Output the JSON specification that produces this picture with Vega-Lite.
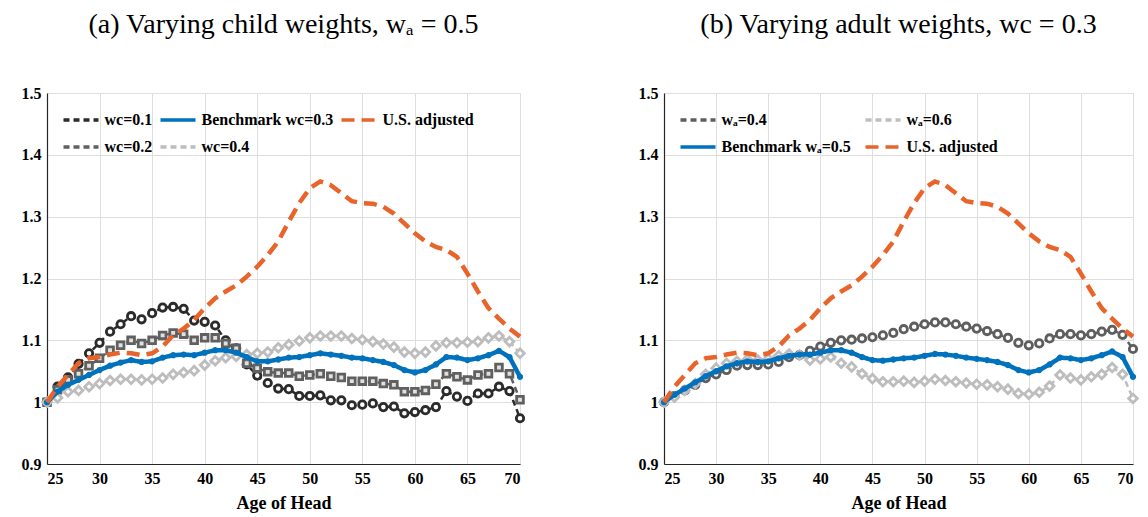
{
  "$schema": "https://vega.github.io/schema/vega-lite/v6.json",
  "padding": {"left": 20, "top": 10, "right": 3, "bottom": 2},
  "background": "white",
  "config": {
    "font": "Liberation Serif, Times New Roman, serif",
    "view": {"stroke": "#d9d9d9", "strokeWidth": 1},
    "axis": {
      "labelFont": "Liberation Serif, Times New Roman, serif", "labelFontSize": 16, "labelFontWeight": 700, "labelColor": "#000000",
      "titleFont": "Liberation Serif, Times New Roman, serif", "titleFontSize": 18, "titleFontWeight": 700, "titleColor": "#000000",
      "gridColor": "#dedede", "gridWidth": 1, "domainColor": "#262626", "domainWidth": 1.2,
      "ticks": false, "labelPadding": 6, "titlePadding": 8
    },
    "title": {"font": "Liberation Serif, Times New Roman, serif", "fontSize": 28, "fontWeight": "normal", "color": "#000000", "anchor": "middle", "offset": 46},
    "legend": {
      "orient": "none", "legendX": 22, "legendY": 15, "labelFont": "Liberation Serif, Times New Roman, serif", "labelFontSize": 16, "labelFontWeight": 700,
      "labelColor": "#000000", "symbolType": "M-1.75,0H1.75", "symbolSize": 400, "symbolStrokeWidth": 3.5, "columnPadding": 0, "rowPadding": 7, "labelOffset": 11.5,
      "title": null
    }
  },
  "spacing": 106,
  "datasets": {
    "a": [
      {"age":25,"series":"wc=0.1","value":1.000},{"age":26,"series":"wc=0.1","value":1.025},{"age":27,"series":"wc=0.1","value":1.040},{"age":28,"series":"wc=0.1","value":1.062},{"age":29,"series":"wc=0.1","value":1.079},{"age":30,"series":"wc=0.1","value":1.096},{"age":31,"series":"wc=0.1","value":1.114},{"age":32,"series":"wc=0.1","value":1.126},{"age":33,"series":"wc=0.1","value":1.139},{"age":34,"series":"wc=0.1","value":1.134},
      {"age":35,"series":"wc=0.1","value":1.144},{"age":36,"series":"wc=0.1","value":1.153},{"age":37,"series":"wc=0.1","value":1.154},{"age":38,"series":"wc=0.1","value":1.151},{"age":39,"series":"wc=0.1","value":1.132},{"age":40,"series":"wc=0.1","value":1.130},{"age":41,"series":"wc=0.1","value":1.124},{"age":42,"series":"wc=0.1","value":1.100},{"age":43,"series":"wc=0.1","value":1.087},{"age":44,"series":"wc=0.1","value":1.061},
      {"age":45,"series":"wc=0.1","value":1.043},{"age":46,"series":"wc=0.1","value":1.031},{"age":47,"series":"wc=0.1","value":1.022},{"age":48,"series":"wc=0.1","value":1.021},{"age":49,"series":"wc=0.1","value":1.010},{"age":50,"series":"wc=0.1","value":1.010},{"age":51,"series":"wc=0.1","value":1.011},{"age":52,"series":"wc=0.1","value":1.003},{"age":53,"series":"wc=0.1","value":1.003},{"age":54,"series":"wc=0.1","value":0.995},
      {"age":55,"series":"wc=0.1","value":0.996},{"age":56,"series":"wc=0.1","value":0.998},{"age":57,"series":"wc=0.1","value":0.992},{"age":58,"series":"wc=0.1","value":0.993},{"age":59,"series":"wc=0.1","value":0.982},{"age":60,"series":"wc=0.1","value":0.984},{"age":61,"series":"wc=0.1","value":0.987},{"age":62,"series":"wc=0.1","value":0.992},{"age":63,"series":"wc=0.1","value":1.018},{"age":64,"series":"wc=0.1","value":1.009},
      {"age":65,"series":"wc=0.1","value":1.002},{"age":66,"series":"wc=0.1","value":1.014},{"age":67,"series":"wc=0.1","value":1.014},{"age":68,"series":"wc=0.1","value":1.025},{"age":69,"series":"wc=0.1","value":1.018},{"age":70,"series":"wc=0.1","value":0.974},

      {"age":25,"series":"wc=0.2","value":1.000},{"age":26,"series":"wc=0.2","value":1.020},{"age":27,"series":"wc=0.2","value":1.036},{"age":28,"series":"wc=0.2","value":1.046},{"age":29,"series":"wc=0.2","value":1.059},{"age":30,"series":"wc=0.2","value":1.071},{"age":31,"series":"wc=0.2","value":1.084},{"age":32,"series":"wc=0.2","value":1.092},{"age":33,"series":"wc=0.2","value":1.100},{"age":34,"series":"wc=0.2","value":1.095},
      {"age":35,"series":"wc=0.2","value":1.100},{"age":36,"series":"wc=0.2","value":1.108},{"age":37,"series":"wc=0.2","value":1.112},{"age":38,"series":"wc=0.2","value":1.110},{"age":39,"series":"wc=0.2","value":1.100},{"age":40,"series":"wc=0.2","value":1.104},{"age":41,"series":"wc=0.2","value":1.104},{"age":42,"series":"wc=0.2","value":1.095},{"age":43,"series":"wc=0.2","value":1.087},{"age":44,"series":"wc=0.2","value":1.063},
      {"age":45,"series":"wc=0.2","value":1.055},{"age":46,"series":"wc=0.2","value":1.049},{"age":47,"series":"wc=0.2","value":1.047},{"age":48,"series":"wc=0.2","value":1.047},{"age":49,"series":"wc=0.2","value":1.042},{"age":50,"series":"wc=0.2","value":1.044},{"age":51,"series":"wc=0.2","value":1.046},{"age":52,"series":"wc=0.2","value":1.042},{"age":53,"series":"wc=0.2","value":1.040},{"age":54,"series":"wc=0.2","value":1.034},
      {"age":55,"series":"wc=0.2","value":1.034},{"age":56,"series":"wc=0.2","value":1.034},{"age":57,"series":"wc=0.2","value":1.030},{"age":58,"series":"wc=0.2","value":1.028},{"age":59,"series":"wc=0.2","value":1.017},{"age":60,"series":"wc=0.2","value":1.017},{"age":61,"series":"wc=0.2","value":1.019},{"age":62,"series":"wc=0.2","value":1.029},{"age":63,"series":"wc=0.2","value":1.046},{"age":64,"series":"wc=0.2","value":1.041},
      {"age":65,"series":"wc=0.2","value":1.036},{"age":66,"series":"wc=0.2","value":1.044},{"age":67,"series":"wc=0.2","value":1.046},{"age":68,"series":"wc=0.2","value":1.056},{"age":69,"series":"wc=0.2","value":1.046},{"age":70,"series":"wc=0.2","value":1.004},

      {"age":25,"series":"wc=0.4","value":1.000},{"age":26,"series":"wc=0.4","value":1.007},{"age":27,"series":"wc=0.4","value":1.017},{"age":28,"series":"wc=0.4","value":1.019},{"age":29,"series":"wc=0.4","value":1.025},{"age":30,"series":"wc=0.4","value":1.030},{"age":31,"series":"wc=0.4","value":1.035},{"age":32,"series":"wc=0.4","value":1.037},{"age":33,"series":"wc=0.4","value":1.037},{"age":34,"series":"wc=0.4","value":1.036},
      {"age":35,"series":"wc=0.4","value":1.037},{"age":36,"series":"wc=0.4","value":1.039},{"age":37,"series":"wc=0.4","value":1.045},{"age":38,"series":"wc=0.4","value":1.048},{"age":39,"series":"wc=0.4","value":1.051},{"age":40,"series":"wc=0.4","value":1.060},{"age":41,"series":"wc=0.4","value":1.067},{"age":42,"series":"wc=0.4","value":1.072},{"age":43,"series":"wc=0.4","value":1.074},{"age":44,"series":"wc=0.4","value":1.077},
      {"age":45,"series":"wc=0.4","value":1.079},{"age":46,"series":"wc=0.4","value":1.081},{"age":47,"series":"wc=0.4","value":1.088},{"age":48,"series":"wc=0.4","value":1.093},{"age":49,"series":"wc=0.4","value":1.099},{"age":50,"series":"wc=0.4","value":1.104},{"age":51,"series":"wc=0.4","value":1.107},{"age":52,"series":"wc=0.4","value":1.107},{"age":53,"series":"wc=0.4","value":1.107},{"age":54,"series":"wc=0.4","value":1.103},
      {"age":55,"series":"wc=0.4","value":1.101},{"age":56,"series":"wc=0.4","value":1.098},{"age":57,"series":"wc=0.4","value":1.094},{"age":58,"series":"wc=0.4","value":1.089},{"age":59,"series":"wc=0.4","value":1.081},{"age":60,"series":"wc=0.4","value":1.079},{"age":61,"series":"wc=0.4","value":1.081},{"age":62,"series":"wc=0.4","value":1.091},{"age":63,"series":"wc=0.4","value":1.096},{"age":64,"series":"wc=0.4","value":1.096},
      {"age":65,"series":"wc=0.4","value":1.097},{"age":66,"series":"wc=0.4","value":1.098},{"age":67,"series":"wc=0.4","value":1.104},{"age":68,"series":"wc=0.4","value":1.107},{"age":69,"series":"wc=0.4","value":1.098},{"age":70,"series":"wc=0.4","value":1.079},

      {"age":25,"series":"Benchmark wc=0.3","value":1.000},{"age":26,"series":"Benchmark wc=0.3","value":1.017},{"age":27,"series":"Benchmark wc=0.3","value":1.028},{"age":28,"series":"Benchmark wc=0.3","value":1.036},{"age":29,"series":"Benchmark wc=0.3","value":1.044},{"age":30,"series":"Benchmark wc=0.3","value":1.052},{"age":31,"series":"Benchmark wc=0.3","value":1.059},{"age":32,"series":"Benchmark wc=0.3","value":1.064},{"age":33,"series":"Benchmark wc=0.3","value":1.068},{"age":34,"series":"Benchmark wc=0.3","value":1.065},
      {"age":35,"series":"Benchmark wc=0.3","value":1.066},{"age":36,"series":"Benchmark wc=0.3","value":1.072},{"age":37,"series":"Benchmark wc=0.3","value":1.076},{"age":38,"series":"Benchmark wc=0.3","value":1.077},{"age":39,"series":"Benchmark wc=0.3","value":1.076},{"age":40,"series":"Benchmark wc=0.3","value":1.080},{"age":41,"series":"Benchmark wc=0.3","value":1.084},{"age":42,"series":"Benchmark wc=0.3","value":1.084},{"age":43,"series":"Benchmark wc=0.3","value":1.080},{"age":44,"series":"Benchmark wc=0.3","value":1.073},
      {"age":45,"series":"Benchmark wc=0.3","value":1.066},{"age":46,"series":"Benchmark wc=0.3","value":1.066},{"age":47,"series":"Benchmark wc=0.3","value":1.069},{"age":48,"series":"Benchmark wc=0.3","value":1.072},{"age":49,"series":"Benchmark wc=0.3","value":1.073},{"age":50,"series":"Benchmark wc=0.3","value":1.076},{"age":51,"series":"Benchmark wc=0.3","value":1.079},{"age":52,"series":"Benchmark wc=0.3","value":1.077},{"age":53,"series":"Benchmark wc=0.3","value":1.075},{"age":54,"series":"Benchmark wc=0.3","value":1.072},
      {"age":55,"series":"Benchmark wc=0.3","value":1.071},{"age":56,"series":"Benchmark wc=0.3","value":1.068},{"age":57,"series":"Benchmark wc=0.3","value":1.065},{"age":58,"series":"Benchmark wc=0.3","value":1.060},{"age":59,"series":"Benchmark wc=0.3","value":1.052},{"age":60,"series":"Benchmark wc=0.3","value":1.048},{"age":61,"series":"Benchmark wc=0.3","value":1.052},{"age":62,"series":"Benchmark wc=0.3","value":1.061},{"age":63,"series":"Benchmark wc=0.3","value":1.073},{"age":64,"series":"Benchmark wc=0.3","value":1.072},
      {"age":65,"series":"Benchmark wc=0.3","value":1.068},{"age":66,"series":"Benchmark wc=0.3","value":1.071},{"age":67,"series":"Benchmark wc=0.3","value":1.076},{"age":68,"series":"Benchmark wc=0.3","value":1.083},{"age":69,"series":"Benchmark wc=0.3","value":1.073},{"age":70,"series":"Benchmark wc=0.3","value":1.041},

      {"age":25,"series":"U.S. adjusted","value":1.000},{"age":26,"series":"U.S. adjusted","value":1.025},{"age":27,"series":"U.S. adjusted","value":1.044},{"age":28,"series":"U.S. adjusted","value":1.063},{"age":29,"series":"U.S. adjusted","value":1.071},{"age":30,"series":"U.S. adjusted","value":1.073},{"age":31,"series":"U.S. adjusted","value":1.077},{"age":32,"series":"U.S. adjusted","value":1.080},{"age":33,"series":"U.S. adjusted","value":1.079},{"age":34,"series":"U.S. adjusted","value":1.076},
      {"age":35,"series":"U.S. adjusted","value":1.079},{"age":36,"series":"U.S. adjusted","value":1.090},{"age":37,"series":"U.S. adjusted","value":1.108},{"age":38,"series":"U.S. adjusted","value":1.119},{"age":39,"series":"U.S. adjusted","value":1.133},{"age":40,"series":"U.S. adjusted","value":1.152},{"age":41,"series":"U.S. adjusted","value":1.168},{"age":42,"series":"U.S. adjusted","value":1.179},{"age":43,"series":"U.S. adjusted","value":1.189},{"age":44,"series":"U.S. adjusted","value":1.203},
      {"age":45,"series":"U.S. adjusted","value":1.219},{"age":46,"series":"U.S. adjusted","value":1.238},{"age":47,"series":"U.S. adjusted","value":1.260},{"age":48,"series":"U.S. adjusted","value":1.292},{"age":49,"series":"U.S. adjusted","value":1.322},{"age":50,"series":"U.S. adjusted","value":1.346},{"age":51,"series":"U.S. adjusted","value":1.357},{"age":52,"series":"U.S. adjusted","value":1.351},{"age":53,"series":"U.S. adjusted","value":1.338},{"age":54,"series":"U.S. adjusted","value":1.325},
      {"age":55,"series":"U.S. adjusted","value":1.322},{"age":56,"series":"U.S. adjusted","value":1.321},{"age":57,"series":"U.S. adjusted","value":1.316},{"age":58,"series":"U.S. adjusted","value":1.305},{"age":59,"series":"U.S. adjusted","value":1.289},{"age":60,"series":"U.S. adjusted","value":1.273},{"age":61,"series":"U.S. adjusted","value":1.260},{"age":62,"series":"U.S. adjusted","value":1.251},{"age":63,"series":"U.S. adjusted","value":1.246},{"age":64,"series":"U.S. adjusted","value":1.235},
      {"age":65,"series":"U.S. adjusted","value":1.208},{"age":66,"series":"U.S. adjusted","value":1.179},{"age":67,"series":"U.S. adjusted","value":1.152},{"age":68,"series":"U.S. adjusted","value":1.135},{"age":69,"series":"U.S. adjusted","value":1.119},{"age":70,"series":"U.S. adjusted","value":1.106}
    ],
    "b": [
      {"age":25,"series":"wₐ=0.4","value":1.000},{"age":26,"series":"wₐ=0.4","value":1.010},{"age":27,"series":"wₐ=0.4","value":1.019},{"age":28,"series":"wₐ=0.4","value":1.028},{"age":29,"series":"wₐ=0.4","value":1.039},{"age":30,"series":"wₐ=0.4","value":1.045},{"age":31,"series":"wₐ=0.4","value":1.052},{"age":32,"series":"wₐ=0.4","value":1.059},{"age":33,"series":"wₐ=0.4","value":1.060},{"age":34,"series":"wₐ=0.4","value":1.060},
      {"age":35,"series":"wₐ=0.4","value":1.061},{"age":36,"series":"wₐ=0.4","value":1.065},{"age":37,"series":"wₐ=0.4","value":1.073},{"age":38,"series":"wₐ=0.4","value":1.076},{"age":39,"series":"wₐ=0.4","value":1.083},{"age":40,"series":"wₐ=0.4","value":1.090},{"age":41,"series":"wₐ=0.4","value":1.096},{"age":42,"series":"wₐ=0.4","value":1.100},{"age":43,"series":"wₐ=0.4","value":1.101},{"age":44,"series":"wₐ=0.4","value":1.103},
      {"age":45,"series":"wₐ=0.4","value":1.105},{"age":46,"series":"wₐ=0.4","value":1.108},{"age":47,"series":"wₐ=0.4","value":1.112},{"age":48,"series":"wₐ=0.4","value":1.118},{"age":49,"series":"wₐ=0.4","value":1.122},{"age":50,"series":"wₐ=0.4","value":1.126},{"age":51,"series":"wₐ=0.4","value":1.129},{"age":52,"series":"wₐ=0.4","value":1.129},{"age":53,"series":"wₐ=0.4","value":1.126},{"age":54,"series":"wₐ=0.4","value":1.122},
      {"age":55,"series":"wₐ=0.4","value":1.119},{"age":56,"series":"wₐ=0.4","value":1.115},{"age":57,"series":"wₐ=0.4","value":1.110},{"age":58,"series":"wₐ=0.4","value":1.104},{"age":59,"series":"wₐ=0.4","value":1.096},{"age":60,"series":"wₐ=0.4","value":1.092},{"age":61,"series":"wₐ=0.4","value":1.095},{"age":62,"series":"wₐ=0.4","value":1.103},{"age":63,"series":"wₐ=0.4","value":1.110},{"age":64,"series":"wₐ=0.4","value":1.110},
      {"age":65,"series":"wₐ=0.4","value":1.108},{"age":66,"series":"wₐ=0.4","value":1.110},{"age":67,"series":"wₐ=0.4","value":1.114},{"age":68,"series":"wₐ=0.4","value":1.117},{"age":69,"series":"wₐ=0.4","value":1.109},{"age":70,"series":"wₐ=0.4","value":1.086},

      {"age":25,"series":"wₐ=0.6","value":1.000},{"age":26,"series":"wₐ=0.6","value":1.008},{"age":27,"series":"wₐ=0.6","value":1.019},{"age":28,"series":"wₐ=0.6","value":1.030},{"age":29,"series":"wₐ=0.6","value":1.045},{"age":30,"series":"wₐ=0.6","value":1.055},{"age":31,"series":"wₐ=0.6","value":1.063},{"age":32,"series":"wₐ=0.6","value":1.066},{"age":33,"series":"wₐ=0.6","value":1.069},{"age":34,"series":"wₐ=0.6","value":1.068},
      {"age":35,"series":"wₐ=0.6","value":1.070},{"age":36,"series":"wₐ=0.6","value":1.075},{"age":37,"series":"wₐ=0.6","value":1.078},{"age":38,"series":"wₐ=0.6","value":1.076},{"age":39,"series":"wₐ=0.6","value":1.068},{"age":40,"series":"wₐ=0.6","value":1.070},{"age":41,"series":"wₐ=0.6","value":1.073},{"age":42,"series":"wₐ=0.6","value":1.063},{"age":43,"series":"wₐ=0.6","value":1.057},{"age":44,"series":"wₐ=0.6","value":1.046},
      {"age":45,"series":"wₐ=0.6","value":1.038},{"age":46,"series":"wₐ=0.6","value":1.033},{"age":47,"series":"wₐ=0.6","value":1.033},{"age":48,"series":"wₐ=0.6","value":1.034},{"age":49,"series":"wₐ=0.6","value":1.032},{"age":50,"series":"wₐ=0.6","value":1.034},{"age":51,"series":"wₐ=0.6","value":1.037},{"age":52,"series":"wₐ=0.6","value":1.035},{"age":53,"series":"wₐ=0.6","value":1.033},{"age":54,"series":"wₐ=0.6","value":1.031},
      {"age":55,"series":"wₐ=0.6","value":1.029},{"age":56,"series":"wₐ=0.6","value":1.028},{"age":57,"series":"wₐ=0.6","value":1.025},{"age":58,"series":"wₐ=0.6","value":1.021},{"age":59,"series":"wₐ=0.6","value":1.014},{"age":60,"series":"wₐ=0.6","value":1.013},{"age":61,"series":"wₐ=0.6","value":1.016},{"age":62,"series":"wₐ=0.6","value":1.026},{"age":63,"series":"wₐ=0.6","value":1.044},{"age":64,"series":"wₐ=0.6","value":1.039},
      {"age":65,"series":"wₐ=0.6","value":1.036},{"age":66,"series":"wₐ=0.6","value":1.041},{"age":67,"series":"wₐ=0.6","value":1.045},{"age":68,"series":"wₐ=0.6","value":1.056},{"age":69,"series":"wₐ=0.6","value":1.045},{"age":70,"series":"wₐ=0.6","value":1.006},

      {"age":25,"series":"Benchmark wₐ=0.5","value":1.000},{"age":26,"series":"Benchmark wₐ=0.5","value":1.012},{"age":27,"series":"Benchmark wₐ=0.5","value":1.022},{"age":28,"series":"Benchmark wₐ=0.5","value":1.032},{"age":29,"series":"Benchmark wₐ=0.5","value":1.042},{"age":30,"series":"Benchmark wₐ=0.5","value":1.050},{"age":31,"series":"Benchmark wₐ=0.5","value":1.058},{"age":32,"series":"Benchmark wₐ=0.5","value":1.063},{"age":33,"series":"Benchmark wₐ=0.5","value":1.066},{"age":34,"series":"Benchmark wₐ=0.5","value":1.065},
      {"age":35,"series":"Benchmark wₐ=0.5","value":1.066},{"age":36,"series":"Benchmark wₐ=0.5","value":1.071},{"age":37,"series":"Benchmark wₐ=0.5","value":1.075},{"age":38,"series":"Benchmark wₐ=0.5","value":1.077},{"age":39,"series":"Benchmark wₐ=0.5","value":1.077},{"age":40,"series":"Benchmark wₐ=0.5","value":1.080},{"age":41,"series":"Benchmark wₐ=0.5","value":1.084},{"age":42,"series":"Benchmark wₐ=0.5","value":1.084},{"age":43,"series":"Benchmark wₐ=0.5","value":1.080},{"age":44,"series":"Benchmark wₐ=0.5","value":1.073},
      {"age":45,"series":"Benchmark wₐ=0.5","value":1.068},{"age":46,"series":"Benchmark wₐ=0.5","value":1.067},{"age":47,"series":"Benchmark wₐ=0.5","value":1.069},{"age":48,"series":"Benchmark wₐ=0.5","value":1.071},{"age":49,"series":"Benchmark wₐ=0.5","value":1.072},{"age":50,"series":"Benchmark wₐ=0.5","value":1.075},{"age":51,"series":"Benchmark wₐ=0.5","value":1.078},{"age":52,"series":"Benchmark wₐ=0.5","value":1.077},{"age":53,"series":"Benchmark wₐ=0.5","value":1.075},{"age":54,"series":"Benchmark wₐ=0.5","value":1.072},
      {"age":55,"series":"Benchmark wₐ=0.5","value":1.070},{"age":56,"series":"Benchmark wₐ=0.5","value":1.068},{"age":57,"series":"Benchmark wₐ=0.5","value":1.065},{"age":58,"series":"Benchmark wₐ=0.5","value":1.060},{"age":59,"series":"Benchmark wₐ=0.5","value":1.052},{"age":60,"series":"Benchmark wₐ=0.5","value":1.048},{"age":61,"series":"Benchmark wₐ=0.5","value":1.052},{"age":62,"series":"Benchmark wₐ=0.5","value":1.061},{"age":63,"series":"Benchmark wₐ=0.5","value":1.072},{"age":64,"series":"Benchmark wₐ=0.5","value":1.071},
      {"age":65,"series":"Benchmark wₐ=0.5","value":1.068},{"age":66,"series":"Benchmark wₐ=0.5","value":1.071},{"age":67,"series":"Benchmark wₐ=0.5","value":1.076},{"age":68,"series":"Benchmark wₐ=0.5","value":1.082},{"age":69,"series":"Benchmark wₐ=0.5","value":1.073},{"age":70,"series":"Benchmark wₐ=0.5","value":1.041},

      {"age":25,"series":"U.S. adjusted","value":1.000},{"age":26,"series":"U.S. adjusted","value":1.025},{"age":27,"series":"U.S. adjusted","value":1.044},{"age":28,"series":"U.S. adjusted","value":1.063},{"age":29,"series":"U.S. adjusted","value":1.071},{"age":30,"series":"U.S. adjusted","value":1.073},{"age":31,"series":"U.S. adjusted","value":1.077},{"age":32,"series":"U.S. adjusted","value":1.080},{"age":33,"series":"U.S. adjusted","value":1.079},{"age":34,"series":"U.S. adjusted","value":1.076},
      {"age":35,"series":"U.S. adjusted","value":1.079},{"age":36,"series":"U.S. adjusted","value":1.090},{"age":37,"series":"U.S. adjusted","value":1.108},{"age":38,"series":"U.S. adjusted","value":1.119},{"age":39,"series":"U.S. adjusted","value":1.133},{"age":40,"series":"U.S. adjusted","value":1.152},{"age":41,"series":"U.S. adjusted","value":1.168},{"age":42,"series":"U.S. adjusted","value":1.179},{"age":43,"series":"U.S. adjusted","value":1.189},{"age":44,"series":"U.S. adjusted","value":1.203},
      {"age":45,"series":"U.S. adjusted","value":1.219},{"age":46,"series":"U.S. adjusted","value":1.238},{"age":47,"series":"U.S. adjusted","value":1.260},{"age":48,"series":"U.S. adjusted","value":1.292},{"age":49,"series":"U.S. adjusted","value":1.322},{"age":50,"series":"U.S. adjusted","value":1.346},{"age":51,"series":"U.S. adjusted","value":1.357},{"age":52,"series":"U.S. adjusted","value":1.351},{"age":53,"series":"U.S. adjusted","value":1.338},{"age":54,"series":"U.S. adjusted","value":1.325},
      {"age":55,"series":"U.S. adjusted","value":1.322},{"age":56,"series":"U.S. adjusted","value":1.321},{"age":57,"series":"U.S. adjusted","value":1.316},{"age":58,"series":"U.S. adjusted","value":1.305},{"age":59,"series":"U.S. adjusted","value":1.289},{"age":60,"series":"U.S. adjusted","value":1.273},{"age":61,"series":"U.S. adjusted","value":1.260},{"age":62,"series":"U.S. adjusted","value":1.251},{"age":63,"series":"U.S. adjusted","value":1.246},{"age":64,"series":"U.S. adjusted","value":1.235},
      {"age":65,"series":"U.S. adjusted","value":1.208},{"age":66,"series":"U.S. adjusted","value":1.179},{"age":67,"series":"U.S. adjusted","value":1.152},{"age":68,"series":"U.S. adjusted","value":1.135},{"age":69,"series":"U.S. adjusted","value":1.119},{"age":70,"series":"U.S. adjusted","value":1.106}
    ]
  },
  "hconcat": [
    {
      "title": "(a) Varying child weights, wₐ = 0.5",
      "width": 473, "height": 371,
      "data": {"name": "a"},
      "encoding": {
        "x": {"field": "age", "type": "quantitative", "scale": {"domain": [25, 70], "nice": false}, "axis": {"values": [25,30,35,40,45,50,55,60,65,70], "title": "Age of Head"}},
        "y": {"field": "value", "type": "quantitative", "scale": {"domain": [0.9, 1.5], "nice": false, "zero": false}, "axis": {"values": [0.9,1,1.1,1.2,1.3,1.4,1.5], "format": ".1~f", "title": null}}
      },
      "layer": [
        {
          "mark": {"type": "line", "strokeWidth": 2.5},
          "transform": [{"filter": "datum.series != 'Benchmark wc=0.3' && datum.series != 'U.S. adjusted'"}],
          "encoding": {
            "color": {"field": "series", "type": "nominal", "scale": {"domain": ["wc=0.1","wc=0.2","Benchmark wc=0.3","wc=0.4","U.S. adjusted"], "range": ["#2b2b2b","#606060","#0072BD","#BDBDBD","#E8642A"]}, "legend": {"columns": 3}},
            "strokeDash": {"field": "series", "type": "nominal", "scale": {"domain": ["wc=0.1","wc=0.2","Benchmark wc=0.3","wc=0.4","U.S. adjusted"], "range": [[6,4],[6,4],[1,0],[6,4],[13,7]]}, "legend": {"columns": 3}}
          }
        },
        {
          "mark": {"type": "point", "filled": false, "strokeWidth": 2.8, "opacity": 1},
          "transform": [{"filter": "datum.series != 'U.S. adjusted'"}],
          "encoding": {
            "shape": {"field": "series", "type": "nominal", "scale": {"domain": ["wc=0.1","Benchmark wc=0.3","wc=0.2","wc=0.4"], "range": ["circle","circle","square","diamond"]}, "legend": null},
            "size": {"field": "series", "type": "nominal", "scale": {"type": "ordinal", "domain": ["wc=0.1","Benchmark wc=0.3","wc=0.2","wc=0.4"], "range": [55,12,45,75]}, "legend": null},
            "stroke": {"field": "series", "type": "nominal", "scale": {"domain": ["wc=0.1","Benchmark wc=0.3","wc=0.2","wc=0.4"], "range": ["#2b2b2b","#0072BD","#606060","#BDBDBD"]}, "legend": null},
            "fill": {"field": "series", "type": "nominal", "scale": {"domain": ["wc=0.1","Benchmark wc=0.3","wc=0.2","wc=0.4"], "range": ["#ffffff","#0072BD","#e0e0e0","#ffffff"]}, "legend": null}
          }
        },
        {
          "mark": {"type": "line", "strokeWidth": 4.5},
          "transform": [{"filter": "datum.series == 'Benchmark wc=0.3' || datum.series == 'U.S. adjusted'"}],
          "encoding": {
            "color": {"field": "series", "type": "nominal"},
            "strokeDash": {"field": "series", "type": "nominal"}
          }
        }
      ]
    },
    {
      "title": "(b) Varying adult weights, wc = 0.3",
      "width": 469, "height": 371,
      "data": {"name": "b"},
      "encoding": {
        "x": {"field": "age", "type": "quantitative", "scale": {"domain": [25, 70], "nice": false}, "axis": {"values": [25,30,35,40,45,50,55,60,65,70], "title": "Age of Head"}},
        "y": {"field": "value", "type": "quantitative", "scale": {"domain": [0.9, 1.5], "nice": false, "zero": false}, "axis": {"values": [0.9,1,1.1,1.2,1.3,1.4,1.5], "format": ".1~f", "title": null}}
      },
      "layer": [
        {
          "mark": {"type": "line", "strokeWidth": 2.5},
          "transform": [{"filter": "datum.series != 'Benchmark wₐ=0.5' && datum.series != 'U.S. adjusted'"}],
          "encoding": {
            "color": {"field": "series", "type": "nominal", "scale": {"domain": ["wₐ=0.4","Benchmark wₐ=0.5","wₐ=0.6","U.S. adjusted"], "range": ["#5e5e5e","#0072BD","#BDBDBD","#E8642A"]}, "legend": {"columns": 2, "columnPadding": 7}},
            "strokeDash": {"field": "series", "type": "nominal", "scale": {"domain": ["wₐ=0.4","Benchmark wₐ=0.5","wₐ=0.6","U.S. adjusted"], "range": [[6,4],[1,0],[6,4],[13,7]]}, "legend": {"columns": 2, "columnPadding": 7}}
          }
        },
        {
          "mark": {"type": "point", "filled": false, "strokeWidth": 2.8, "opacity": 1},
          "transform": [{"filter": "datum.series != 'U.S. adjusted'"}],
          "encoding": {
            "shape": {"field": "series", "type": "nominal", "scale": {"domain": ["wₐ=0.4","wₐ=0.6","Benchmark wₐ=0.5"], "range": ["circle","diamond","circle"]}, "legend": null},
            "size": {"field": "series", "type": "nominal", "scale": {"type": "ordinal", "domain": ["wₐ=0.4","wₐ=0.6","Benchmark wₐ=0.5"], "range": [55,75,12]}, "legend": null},
            "stroke": {"field": "series", "type": "nominal", "scale": {"domain": ["wₐ=0.4","wₐ=0.6","Benchmark wₐ=0.5"], "range": ["#5e5e5e","#BDBDBD","#0072BD"]}, "legend": null},
            "fill": {"field": "series", "type": "nominal", "scale": {"domain": ["wₐ=0.4","wₐ=0.6","Benchmark wₐ=0.5"], "range": ["#ffffff","#ffffff","#0072BD"]}, "legend": null}
          }
        },
        {
          "mark": {"type": "line", "strokeWidth": 4.5},
          "transform": [{"filter": "datum.series == 'Benchmark wₐ=0.5' || datum.series == 'U.S. adjusted'"}],
          "encoding": {
            "color": {"field": "series", "type": "nominal"},
            "strokeDash": {"field": "series", "type": "nominal"}
          }
        }
      ]
    }
  ],
  "resolve": {"scale": {"color": "independent", "strokeDash": "independent", "shape": "independent", "size": "independent", "stroke": "independent", "fill": "independent"}}
}
